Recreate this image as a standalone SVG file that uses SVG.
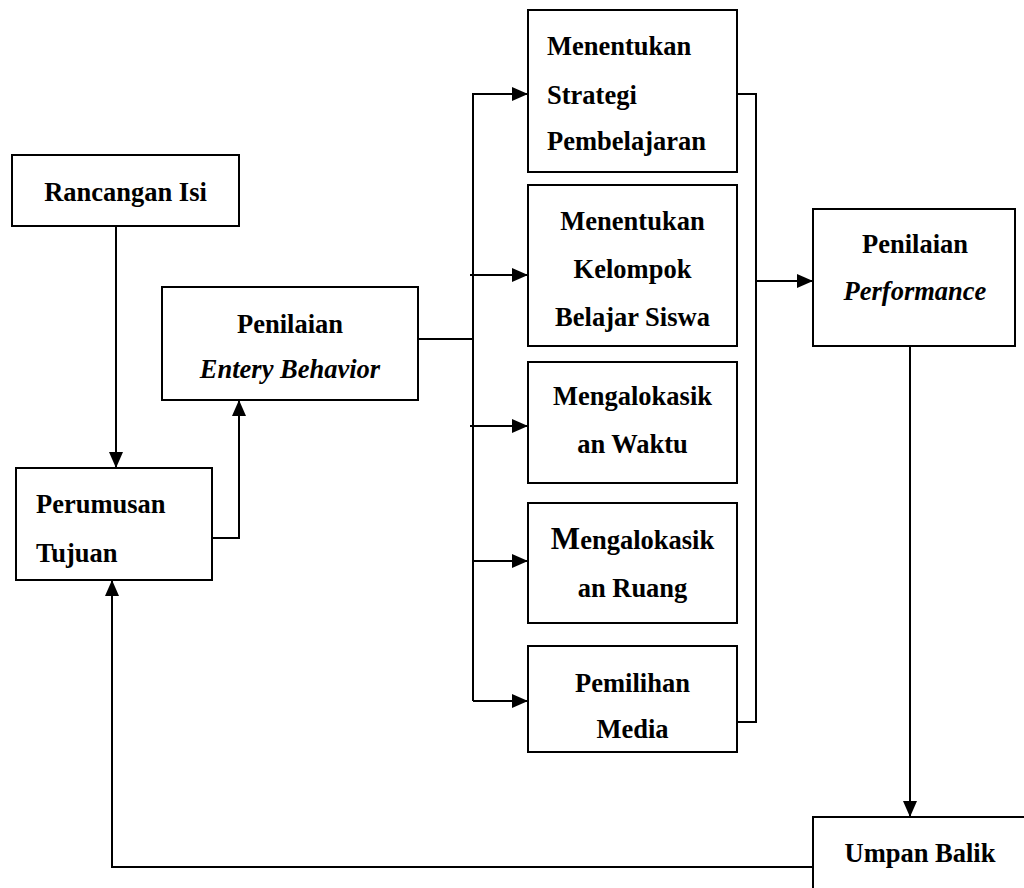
<svg xmlns="http://www.w3.org/2000/svg" width="1024" height="888" viewBox="0 0 1024 888">
<style>
.box{fill:#fff;stroke:#000;stroke-width:2}
.t{font-family:"Liberation Serif","Times New Roman",serif;font-size:26.5px;font-weight:bold;fill:#000}
.c{text-anchor:middle}
.i{font-style:italic}
.ln{fill:none;stroke:#000;stroke-width:2}
</style>
<defs>
<marker id="ah" markerUnits="userSpaceOnUse" markerWidth="16" markerHeight="14" refX="16" refY="7" orient="auto">
<path d="M0,0 L16,7 L0,14 z" fill="#000"/>
</marker>
</defs>
<rect width="1024" height="888" fill="#fff"/>
<g id="connectors">
<path class="ln" d="M116,226 V468" marker-end="url(#ah)"/>
<path class="ln" d="M212,538 H239 V400" marker-end="url(#ah)"/>
<path class="ln" d="M418,339 H473"/>
<path class="ln" d="M473,701 V94 H528" marker-end="url(#ah)"/>
<path class="ln" d="M470,275 H528" marker-end="url(#ah)"/>
<path class="ln" d="M470,426 H528" marker-end="url(#ah)"/>
<path class="ln" d="M472,561 H528" marker-end="url(#ah)"/>
<path class="ln" d="M473,701 H528" marker-end="url(#ah)"/>
<path class="ln" d="M737,94 H756 V722 H737"/>
<path class="ln" d="M756,281 H813" marker-end="url(#ah)"/>
<path class="ln" d="M910,346 V817" marker-end="url(#ah)"/>
<path class="ln" d="M813,867 H112 V580" marker-end="url(#ah)"/>
</g>
<g id="rancangan">
<rect class="box" x="12" y="155" width="227" height="71"/>
<text class="t c" x="125.5" y="201">Rancangan Isi</text>
</g>
<g id="entery">
<rect class="box" x="162" y="287" width="256" height="113"/>
<text class="t c" x="290" y="333">Penilaian</text>
<text class="t c i" x="290" y="378">Entery Behavior</text>
</g>
<g id="perumusan">
<rect class="box" x="16" y="468" width="196" height="112"/>
<text class="t" x="36" y="513">Perumusan</text>
<text class="t" x="36" y="562">Tujuan</text>
</g>
<g id="strategi">
<rect class="box" x="528" y="10" width="209" height="162"/>
<text class="t" x="547" y="55">Menentukan</text>
<text class="t" x="547" y="104">Strategi</text>
<text class="t" x="547" y="150">Pembelajaran</text>
</g>
<g id="kelompok">
<rect class="box" x="528" y="185" width="209" height="161"/>
<text class="t c" x="632.5" y="230">Menentukan</text>
<text class="t c" x="632.5" y="278">Kelompok</text>
<text class="t c" x="632.5" y="326">Belajar Siswa</text>
</g>
<g id="waktu">
<rect class="box" x="528" y="362" width="209" height="121"/>
<text class="t c" x="632.5" y="405">Mengalokasik</text>
<text class="t c" x="632.5" y="453">an Waktu</text>
</g>
<g id="ruang">
<rect class="box" x="528" y="503" width="209" height="120"/>
<text class="t c" x="632.5" y="549"><tspan font-size="31">M</tspan>engalokasik</text>
<text class="t c" x="632.5" y="597">an Ruang</text>
</g>
<g id="media">
<rect class="box" x="528" y="646" width="209" height="106"/>
<text class="t c" x="632.5" y="692">Pemilihan</text>
<text class="t c" x="632.5" y="738">Media</text>
</g>
<g id="performance">
<rect class="box" x="813" y="209" width="202" height="137"/>
<text class="t c" x="915" y="253">Penilaian</text>
<text class="t c i" x="915" y="300">Performance</text>
</g>
<g id="umpanbalik">
<rect class="box" x="813" y="817" width="230" height="90"/>
<text class="t c" x="920" y="862">Umpan Balik</text>
</g>
</svg>
